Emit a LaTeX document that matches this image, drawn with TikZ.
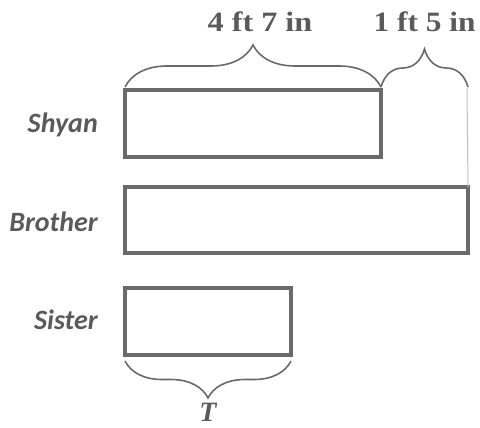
\documentclass[tikz,border=0pt]{standalone}
\usepackage{fontspec}
\setmainfont{Liberation Serif}
\newfontfamily\lblfont{Carlito}
\usetikzlibrary{decorations.pathreplacing}
\definecolor{boxgray}{HTML}{6A6A6A}
\definecolor{txtgray}{HTML}{5A5A5A}
\begin{document}
\begin{tikzpicture}[x=1pt,y=-1pt,
  bar/.style={draw=boxgray,line width=3.8pt,fill=white},
  who/.style={font=\lblfont\bfseries\itshape\fontsize{28}{30}\selectfont,text=txtgray,anchor=east,inner sep=0pt},
  qty/.style={font=\bfseries\fontsize{28}{30}\selectfont,text=txtgray},
  brc/.style={draw=boxgray,line width=1.6pt,decorate},
  guide/.style={draw=gray!50,line width=1pt}]
\useasboundingbox (0,0) rectangle (480,428);
% bars
\draw[bar] (125,90) rectangle (381,157);
\draw[bar] (125,187) rectangle (468,253);
\coordinate (bNE) at (468,187);
\draw[bar] (125,288) rectangle (291,355);
\coordinate (tW) at (125,361);
\coordinate (tE) at (291,361);
% guide line
\coordinate (gTop) at (467,88);
\draw[guide] (gTop) -- (bNE);
% braces
\draw[brc,decoration={brace,amplitude=42pt}] (125,87) -- (381,87)
  node[midway,yshift=65pt,xshift=7pt,qty] (q1) {\scalebox{1.15}[1]{4 ft 7 in}};
\draw[brc,decoration={brace,amplitude=38pt}] (381,87) -- (468,87)
  node[midway,yshift=65pt,qty] (q2) {\scalebox{1.12}[1]{1 ft 5 in}};
\draw[brc,decoration={brace,amplitude=37pt,mirror}] (tW) -- (tE)
  node[midway,yshift=-51pt,font=\bfseries\itshape\fontsize{28}{30}\selectfont,text=txtgray] (T) {T};
% labels
\node[who] (shyan) at (98,125) {Shyan};
\node[who] (brother) at (98,222) {Brother};
\node[who] (sister) at (98,320) {Sister};
\end{tikzpicture}
\end{document}
